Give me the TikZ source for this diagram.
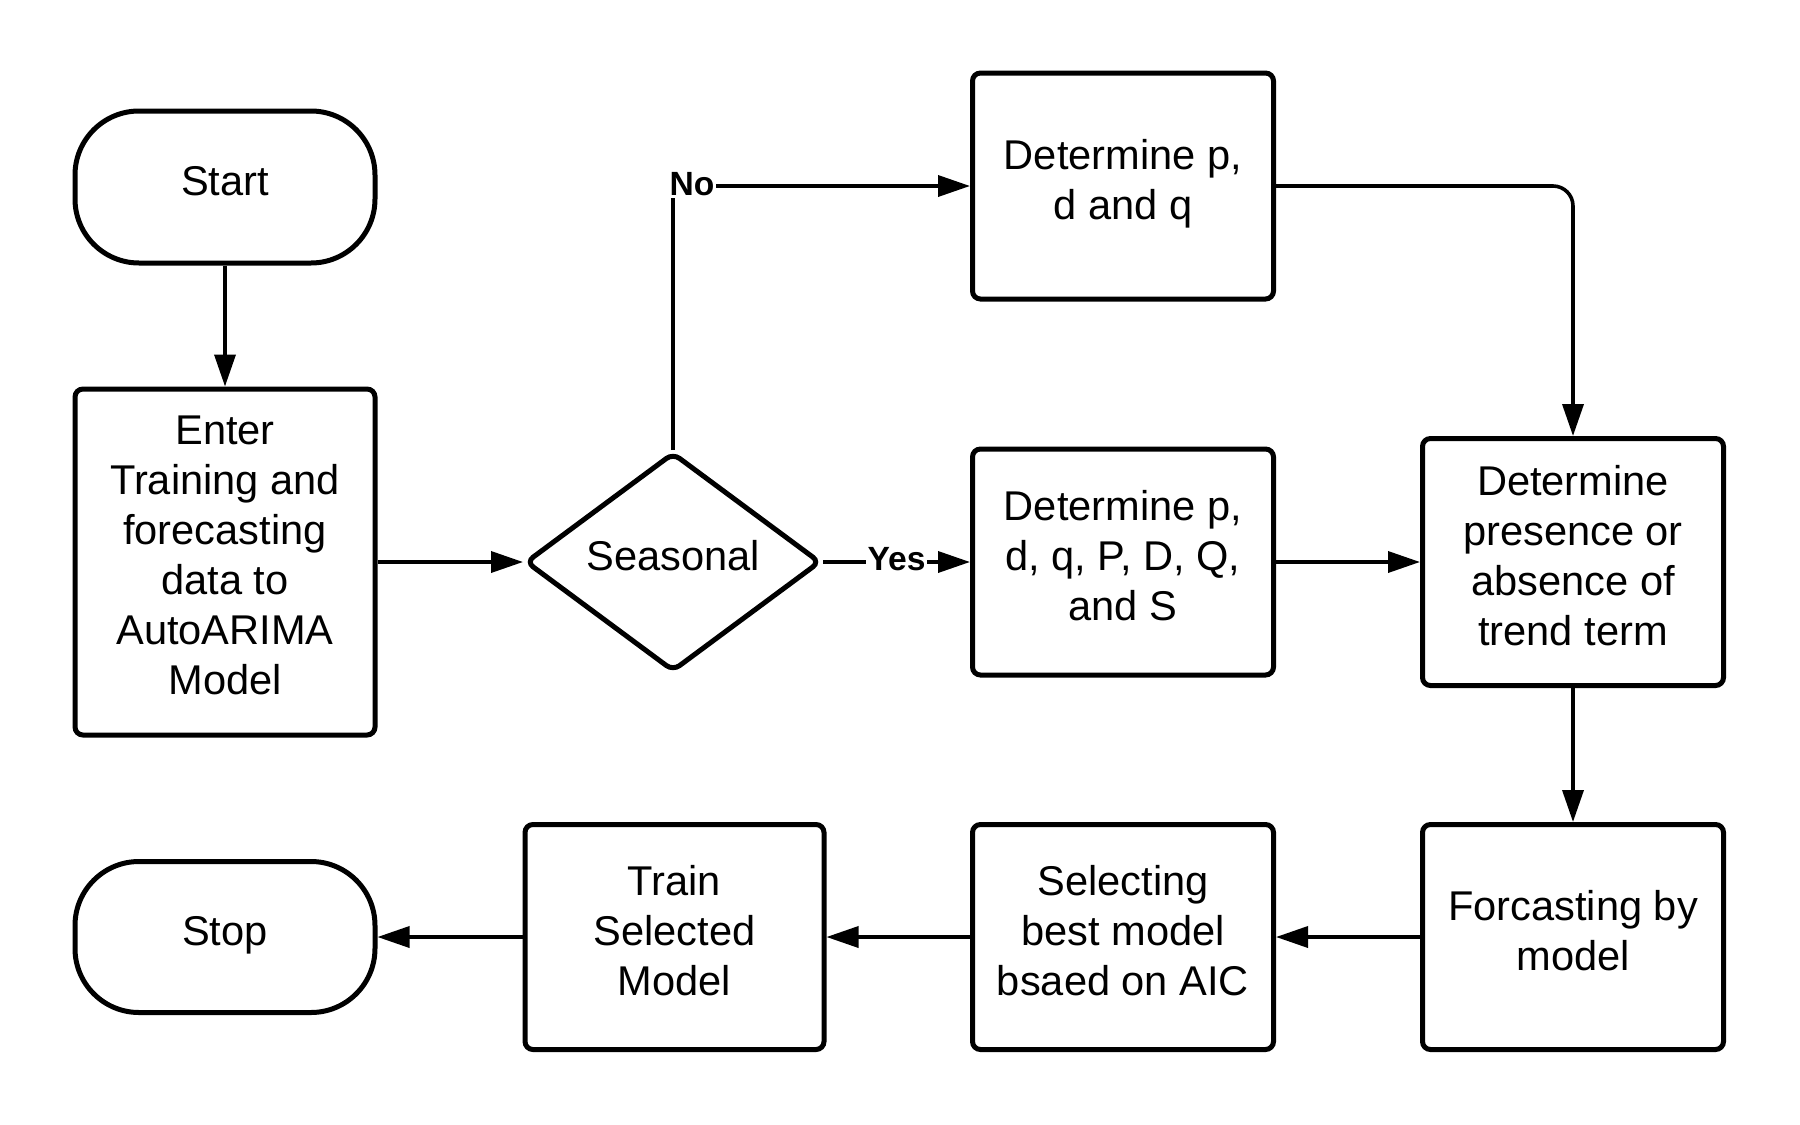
\documentclass[tikz,border=0pt]{standalone}
\usepackage{fontspec}
\setmainfont{Liberation Sans}
\usetikzlibrary{shapes.geometric,arrows.meta}
\begin{document}
\begin{tikzpicture}[x=0.5pt,y=-0.5pt,
  txt/.style={font=\fontsize{20.8pt}{25pt}\selectfont,text depth=6.5pt},
  box/.style={txt,draw,line width=2.5pt,rounded corners=4pt,minimum width=150.5pt,minimum height=113pt,align=center,inner sep=2pt},
  term/.style={txt,draw,line width=2.5pt,rounded corners=32pt,minimum width=150pt,minimum height=76pt,align=center},
  dec/.style={txt,draw,diamond,line width=2.5pt,rounded corners=4pt,minimum width=147.5pt,minimum height=109.5pt,inner sep=0pt},
  conn/.style={line width=1.8pt,-{Triangle[length=16pt,width=10.5pt]}},
  lbl/.style={fill=white,inner sep=1pt,font=\fontsize{16.8pt}{18pt}\selectfont\bfseries}]
\useasboundingbox (0,0) rectangle (1800,1125);
\node[term] (start) at (225,187) {Start};
\node[box,minimum width=150pt,minimum height=173pt] (enter) at (225,562) {Enter\\Training and\\forecasting\\data to\\AutoARIMA\\Model};
\node[dec] (dia) at (673,562) {Seasonal};
\node[box] (pdq) at (1123,186) {Determine p,\\d and q};
\node[box] (pdqs) at (1123,562) {Determine p,\\d, q, P, D, Q,\\and S};
\node[box,minimum height=123.5pt] (trend) at (1573,562) {Determine\\presence or\\absence of\\trend term};
\node[box,minimum height=112.5pt] (forc) at (1573,937) {Forcasting by\\model};
\node[box,minimum height=112.5pt] (sel) at (1123,937) {Selecting\\best model\\bsaed on AIC};
\node[box,minimum width=149.5pt,minimum height=112.5pt] (train) at (674.5,937) {Train\\Selected\\Model};
\node[term,minimum height=75.5pt] (stop) at (225,937) {Stop};
\draw[conn] (start.south) -- (enter.north);
\draw[conn] (enter.east) -- (dia.west);
\draw[conn] (dia.north) |- (pdq.west);
\node[lbl] (nolbl) at (692,184) {No};
\draw[conn] (dia.east) -- node[lbl,yshift=1.5pt] (yeslbl) {Yes} (pdqs.west);
\draw[conn,rounded corners=10pt] (pdq.east) -| (trend.north);
\draw[conn] (pdqs.east) -- (trend.west);
\draw[conn] (trend.south) -- (forc.north);
\draw[conn] (forc.west) -- (sel.east);
\draw[conn] (sel.west) -- (train.east);
\draw[conn] (train.west) -- (stop.east);
\end{tikzpicture}
\end{document}
